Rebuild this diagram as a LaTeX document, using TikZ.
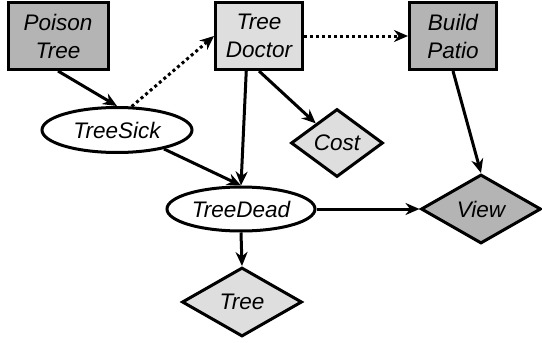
\documentclass[tikz,border=0pt]{standalone}
\usepackage{fontspec}
\setmainfont{Liberation Sans}
\usetikzlibrary{arrows.meta,shapes.geometric}
\definecolor{darkfill}{HTML}{B4B4B4}
\definecolor{lightfill}{HTML}{DEDEDE}

\begin{document}
\begin{tikzpicture}[x=1pt,y=-1pt,
    every node/.style={font=\fontsize{22.5}{28}\selectfont\itshape,align=center,line width=3pt,draw,inner sep=0pt},
    decision/.style={rectangle,minimum width=100pt,minimum height=67pt},
    chance/.style={ellipse,fill=white,minimum width=150pt,minimum height=45pt},
    utility/.style={diamond,minimum width=120pt,minimum height=69pt},
    link/.style={-{Stealth[length=14pt,width=12pt,inset=4.5pt]},line width=3pt},
    info/.style={link,dash pattern=on 3pt off 3pt}]
    \useasboundingbox (0,0) rectangle (542,343);

    \path
    (58,36) node[decision,fill=darkfill] (poison) {Poison\\Tree}
    (259,36) node[decision,fill=lightfill,minimum width=87pt] (doctor) {Tree\\Doctor}
    (453,36) node[decision,fill=darkfill,minimum width=87pt] (patio) {Build\\Patio}
    ;

    \path
    (117,130) node[chance] (sick) {TreeSick}
    (241,209) node[chance,minimum width=148pt,minimum height=44pt] (dead) {TreeDead}
    ;

    \path
    (337,143) node[utility,fill=lightfill,minimum width=92pt,minimum height=68pt] (cost) {Cost}
    (481,209) node[utility,fill=darkfill] (view) {View}
    (242,302) node[utility,fill=lightfill] (tree) {Tree}
    ;

    \draw[link] (poison.south) -- (sick.north);
    \draw[info] (sick.58) -- (doctor.west);
    \draw[info] (doctor.east) -- (patio.west);
    \draw[link] (doctor.south) -- (cost);
    \draw[link] (doctor.250) -- (dead.north);
    \draw[link] (sick.-22) -- (dead.north);
    \draw[link] (patio.south) -- (view.north);
    \draw[link] (dead.east) -- (view.west);
    \draw[link] (dead.south) -- (tree.north);
  \end{tikzpicture}
\end{document}
